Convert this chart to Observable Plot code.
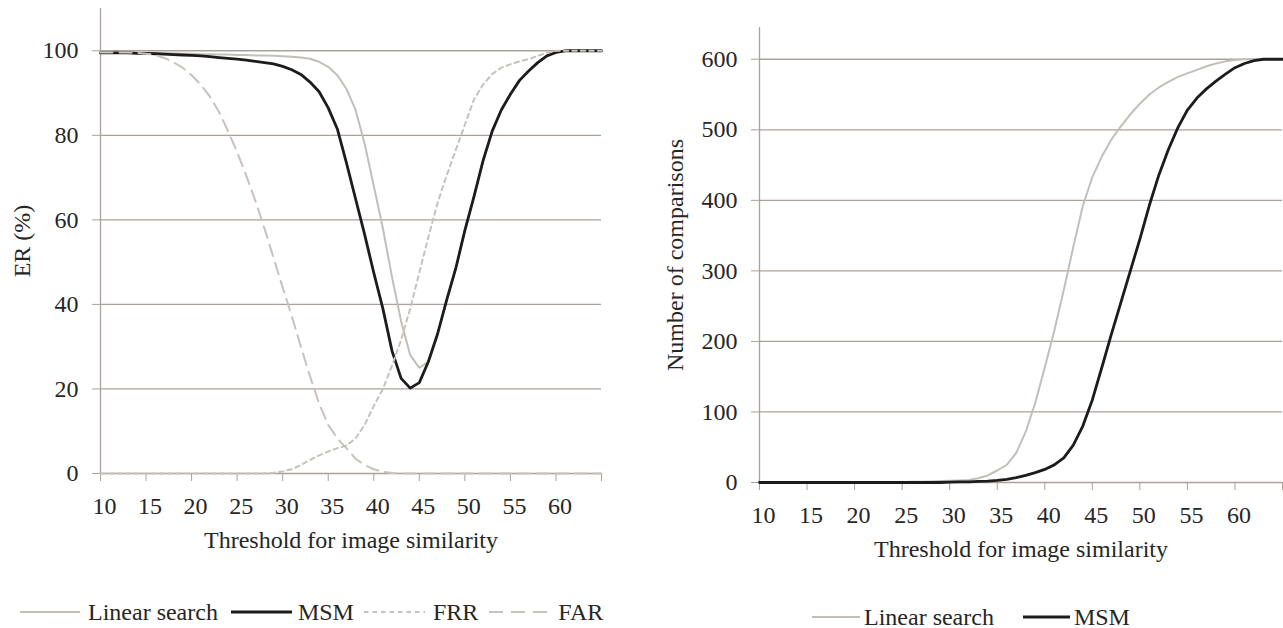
<!DOCTYPE html>
<html><head><meta charset="utf-8">
<script src="https://cdn.jsdelivr.net/npm/d3@7"></script>
<script src="https://cdn.jsdelivr.net/npm/@observablehq/plot@0.6"></script>
<style>
body{margin:0;background:#fff;width:1283px;height:628px;overflow:hidden;position:relative;font-family:"Liberation Serif",serif;color:#262626}
#left{position:absolute;left:0;top:0}
#right{position:absolute;left:640px;top:0}
.legend{position:absolute;display:flex;align-items:center;font-size:24px;line-height:28px;white-space:nowrap;color:#262626}
.legend svg{display:block}
</style></head><body>
<div id="left"></div><div id="right"></div>
<div class="legend" id="legL" style="left:20px;top:598px"></div>
<div class="legend" id="legR" style="left:812px;top:603px"></div>
<script>
// Threshold categories
const thresholds = [10,11,12,13,14,15,16,17,18,19,20,21,22,23,24,25,26,27,28,29,30,31,32,33,34,35,36,37,
  38,39,40,41,42,43,44,45,46,47,48,49,50,51,52,53,54,55,56,57,58,59,60,61,62,63,64,65];
const xTicks = [10,15,20,25,30,35,40,45,50,55,60,65];
const xLabels = [10,15,20,25,30,35,40,45,50,55,60];
const erTicks = [0,20,40,60,80,100];
const cmpTicks = [0,100,200,300,400,500,600];

// Left chart: ER (%)
const erLinear = [99.6,99.6,99.6,99.6,99.6,99.5,99.5,99.4,99.4,99.3,99.3,99.2,99.2,99.1,99.1,99.0,99.0,98.9,98.9,98.8,
  98.7,98.6,98.4,98.1,97.4,96.2,94.2,91,86,78,68,58,46.5,36,28,25,
  26.5,33,41,48.5,57.5,65.5,74,81,86,89.7,93,95.2,97.2,98.8,99.6,100,100,100,100,100];
const erMSM = [99.5,99.5,99.5,99.5,99.4,99.4,99.3,99.2,99.1,99.0,
  98.9,98.8,98.6,98.4,98.2,98.0,97.8,97.5,97.2,96.9,
  96.3,95.5,94.4,92.6,90.3,86.5,81.5,73.5,65,56.5,
  47.5,39,29,22.5,20.2,21.5,26.5,33,41,48.5,
  57.5,65.5,74,81,86,89.7,93,95.2,97.2,98.8,
  99.6,100,100,100,100,100];
const erFRR = [0,0,0,0,0,0,0,0,0,0,0,0,0,0,0,0,0,0,0,
  0.2,0.5,1.0,2.0,3.2,4.3,5.2,6.0,6.6,8.3,11.5,16,20,25.5,31.6,39,47.5,56,64,70.5,76.5,82.5,88.5,92,94.5,96,96.8,97.5,98,98.8,99.5,
  100,100,100,100,100,100];
const erFAR = [99.6,99.6,99.6,99.6,99.5,99.3,99,98.3,97.3,96,94.2,92,89.2,85.6,81,76,70.5,64.5,58,51,44,37.2,30,23,16.5,11.5,8.3,6,3.5,2.0,1.0,0.4,0.1,
  0,0,0,0,0,0,0,0,0,0,0,0,0,0,0,0,0,0,0,0,0,0,0];

// Right chart: number of comparisons
const cmpLinear = [0,0,0,0,0,0,0,0,0,0,0,0,0,0,0,
  0.5,1,1,1.5,2,2.5,3,3.5,6,10,17,25,42,72,113,163,215,273,334,392,433,462,486,505,522,537,550,560,568,575,580,585,590,594,597,599,
  600,600,600,600,600];
const cmpMSM = [0,0,0,0,0,0,0,0,0,0,0,0,0,0,0,0,0,0,0,0,
  0.5,1,1,1.5,2,3,4.5,7,10,14,18.5,25,35,53,80,117,163,210,255,300,345,393,436,472,503,528,545,558,569,579,588,594,598,
  600,600,600];

const xTitle = "Threshold for image similarity";
const gridColor = "#aaa19c";
const textColor = "#262626";
const lightColor = "#c4beb9";
const darkColor = "#1c1c1c";
const dashColor = "#c9c1bc";

const rows = (vals) => thresholds.map((t, i) => ({x: t, y: vals[i]}));
const style = {fontFamily: "Liberation Serif", fontSize: "24px", color: textColor, background: "transparent", overflow: "visible"};

function axesMarks(yTicks, yLabel, yLabelDx) {
  return [
    Plot.ruleY(yTicks, {stroke: gridColor, strokeWidth: 1.3}),
    Plot.ruleX([10], {stroke: gridColor, strokeWidth: 1.3}),
    Plot.axisY({ticks: yTicks, tickSize: 8, tickPadding: 14, stroke: gridColor, fill: textColor, label: null}),
    Plot.axisX({ticks: xTicks, tickSize: 8, tickFormat: () => "", stroke: gridColor, label: null}),
    Plot.axisX({ticks: xLabels, tickSize: 0, tickPadding: 23, dx: 4, fill: textColor, label: null}),
    Plot.text([xTitle], {frameAnchor: "bottom", dy: 67, textAnchor: "middle", lineAnchor: "middle", fill: textColor}),
    Plot.text([yLabel], {frameAnchor: "left", rotate: -90, dx: yLabelDx, textAnchor: "middle", lineAnchor: "middle", fill: textColor})
  ];
}

const left = Plot.plot({
  width: 640, height: 560, marginLeft: 100, marginRight: 39, marginTop: 8, marginBottom: 87,
  style,
  x: {domain: [10, 65]}, y: {domain: [0, 110]},
  marks: [
    ...axesMarks(erTicks, "ER (%)", -78),
    Plot.line(rows(erLinear), {x: "x", y: "y", stroke: lightColor, strokeWidth: 2}),
    Plot.line(rows(erMSM), {x: "x", y: "y", stroke: darkColor, strokeWidth: 2.8}),
    Plot.line(rows(erFRR), {x: "x", y: "y", stroke: dashColor, strokeWidth: 2, strokeDasharray: "4.5,4"}),
    Plot.line(rows(erFAR), {x: "x", y: "y", stroke: dashColor, strokeWidth: 2, strokeDasharray: "12,7"})
  ]
});
document.getElementById("left").append(left);

const right = Plot.plot({
  width: 643, height: 570, marginLeft: 119, marginRight: 1, marginTop: 27, marginBottom: 88,
  style,
  x: {domain: [10, 65]}, y: {domain: [0, 645]},
  marks: [
    ...axesMarks(cmpTicks, "Number of comparisons", -84),
    Plot.line(rows(cmpLinear), {x: "x", y: "y", stroke: lightColor, strokeWidth: 2}),
    Plot.line(rows(cmpMSM), {x: "x", y: "y", stroke: darkColor, strokeWidth: 2.8})
  ]
});
document.getElementById("right").append(right);

// Legends
function legend(id, items) {
  const el = document.getElementById(id);
  items.forEach(it => {
    const svg = document.createElementNS("http://www.w3.org/2000/svg", "svg");
    svg.setAttribute("width", it.len); svg.setAttribute("height", 10);
    svg.style.marginLeft = it.before + "px";
    svg.style.marginRight = it.after + "px";
    const ln = document.createElementNS("http://www.w3.org/2000/svg", "line");
    ln.setAttribute("x1", 0); ln.setAttribute("x2", it.len); ln.setAttribute("y1", 5); ln.setAttribute("y2", 5);
    ln.setAttribute("stroke", it.stroke); ln.setAttribute("stroke-width", it.width);
    if (it.dash) ln.setAttribute("stroke-dasharray", it.dash);
    svg.append(ln);
    const span = document.createElement("span");
    span.textContent = it.label;
    el.append(svg, span);
  });
}
legend("legL", [
  {label: "Linear search", stroke: lightColor, width: 2, len: 60, before: 0, after: 8},
  {label: "MSM", stroke: darkColor, width: 3, len: 61, before: 13, after: 6},
  {label: "FRR", stroke: dashColor, width: 2, len: 61, before: 10, after: 8, dash: "4.5,4"},
  {label: "FAR", stroke: dashColor, width: 2, len: 61, before: 11, after: 8, dash: "14,8"}
]);
legend("legR", [
  {label: "Linear search", stroke: lightColor, width: 2, len: 48, before: 0, after: 4},
  {label: "MSM", stroke: darkColor, width: 3, len: 47, before: 29, after: 4}
]);
</script>
</body></html>
